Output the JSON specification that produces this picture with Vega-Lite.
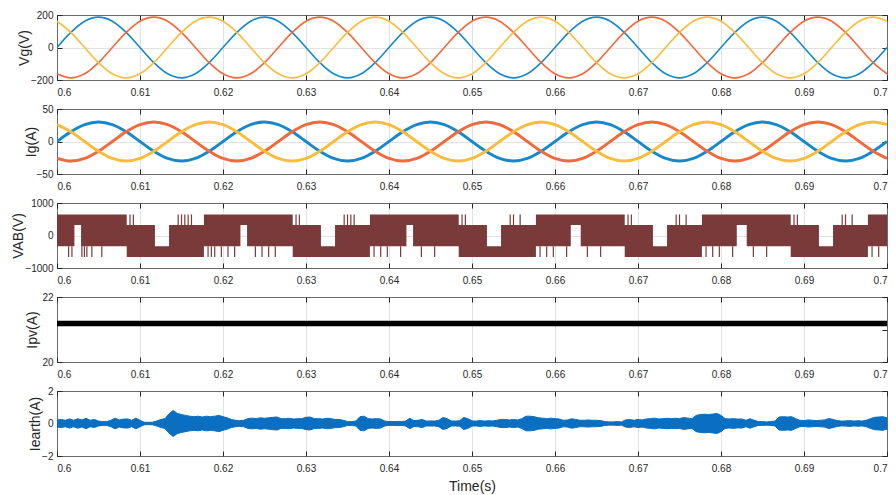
{
  "$schema": "https://vega.github.io/schema/vega-lite/v6.json",
  "background": "white",
  "padding": {"top": 9, "left": 10, "right": 0, "bottom": 0},
  "config": {
    "font": "Liberation Sans",
    "view": {"stroke": "#6b6b6b", "strokeWidth": 1},
    "axis": {
      "labelFont": "Liberation Sans", "labelFontSize": 10, "labelColor": "#262626",
      "titleFont": "Liberation Sans", "titleFontSize": 14, "titleFontWeight": "normal", "titleColor": "#262626",
      "grid": true, "gridWidth": 1,
      "domain": false, "tickColor": "#262626", "tickSize": -5
    },
    "axisX": {"labelPadding": 12, "gridColor": {"condition": {"test": "datum.value <= 0.6 || datum.value >= 0.7", "value": "#6b6b6b"}, "value": "#e2e2e2"}},
    "axisY": {"labelPadding": 9, "titleBaseline": "middle", "titleAnchor": "middle"}
  },
  "bounds": "flush",
  "spacing": 29,
  "datasets": {
    "sine": [
      {"t":0.6,"a":0,"b":-162,"c":162,"ia":0,"ib":-26,"ic":26},
      {"t":0.601667,"a":93,"b":-187,"c":93,"ia":15,"ib":-30,"ic":15},
      {"t":0.603333,"a":162,"b":-162,"c":0,"ia":26,"ib":-26,"ic":0},
      {"t":0.605,"a":187,"b":-93,"c":-93,"ia":30,"ib":-15,"ic":-15},
      {"t":0.606667,"a":162,"b":0,"c":-162,"ia":26,"ib":0,"ic":-26},
      {"t":0.608333,"a":93,"b":93,"c":-187,"ia":15,"ib":15,"ic":-30},
      {"t":0.61,"a":0,"b":162,"c":-162,"ia":0,"ib":26,"ic":-26},
      {"t":0.611667,"a":-93,"b":187,"c":-93,"ia":-15,"ib":30,"ic":-15},
      {"t":0.613333,"a":-162,"b":162,"c":0,"ia":-26,"ib":26,"ic":0},
      {"t":0.615,"a":-187,"b":93,"c":93,"ia":-30,"ib":15,"ic":15},
      {"t":0.616667,"a":-162,"b":0,"c":162,"ia":-26,"ib":0,"ic":26},
      {"t":0.618333,"a":-93,"b":-93,"c":187,"ia":-15,"ib":-15,"ic":30},
      {"t":0.62,"a":0,"b":-162,"c":162,"ia":0,"ib":-26,"ic":26},
      {"t":0.621667,"a":93,"b":-187,"c":93,"ia":15,"ib":-30,"ic":15},
      {"t":0.623333,"a":162,"b":-162,"c":0,"ia":26,"ib":-26,"ic":0},
      {"t":0.625,"a":187,"b":-93,"c":-93,"ia":30,"ib":-15,"ic":-15},
      {"t":0.626667,"a":162,"b":0,"c":-162,"ia":26,"ib":0,"ic":-26},
      {"t":0.628333,"a":93,"b":93,"c":-187,"ia":15,"ib":15,"ic":-30},
      {"t":0.63,"a":0,"b":162,"c":-162,"ia":0,"ib":26,"ic":-26},
      {"t":0.631667,"a":-93,"b":187,"c":-93,"ia":-15,"ib":30,"ic":-15},
      {"t":0.633333,"a":-162,"b":162,"c":0,"ia":-26,"ib":26,"ic":0},
      {"t":0.635,"a":-187,"b":93,"c":93,"ia":-30,"ib":15,"ic":15},
      {"t":0.636667,"a":-162,"b":0,"c":162,"ia":-26,"ib":0,"ic":26},
      {"t":0.638333,"a":-93,"b":-93,"c":187,"ia":-15,"ib":-15,"ic":30},
      {"t":0.64,"a":0,"b":-162,"c":162,"ia":0,"ib":-26,"ic":26},
      {"t":0.641667,"a":93,"b":-187,"c":93,"ia":15,"ib":-30,"ic":15},
      {"t":0.643333,"a":162,"b":-162,"c":0,"ia":26,"ib":-26,"ic":0},
      {"t":0.645,"a":187,"b":-93,"c":-93,"ia":30,"ib":-15,"ic":-15},
      {"t":0.646667,"a":162,"b":0,"c":-162,"ia":26,"ib":0,"ic":-26},
      {"t":0.648333,"a":93,"b":93,"c":-187,"ia":15,"ib":15,"ic":-30},
      {"t":0.65,"a":0,"b":162,"c":-162,"ia":0,"ib":26,"ic":-26},
      {"t":0.651667,"a":-93,"b":187,"c":-93,"ia":-15,"ib":30,"ic":-15},
      {"t":0.653333,"a":-162,"b":162,"c":0,"ia":-26,"ib":26,"ic":0},
      {"t":0.655,"a":-187,"b":93,"c":93,"ia":-30,"ib":15,"ic":15},
      {"t":0.656667,"a":-162,"b":0,"c":162,"ia":-26,"ib":0,"ic":26},
      {"t":0.658333,"a":-93,"b":-93,"c":187,"ia":-15,"ib":-15,"ic":30},
      {"t":0.66,"a":0,"b":-162,"c":162,"ia":0,"ib":-26,"ic":26},
      {"t":0.661667,"a":93,"b":-187,"c":93,"ia":15,"ib":-30,"ic":15},
      {"t":0.663333,"a":162,"b":-162,"c":0,"ia":26,"ib":-26,"ic":0},
      {"t":0.665,"a":187,"b":-93,"c":-93,"ia":30,"ib":-15,"ic":-15},
      {"t":0.666667,"a":162,"b":0,"c":-162,"ia":26,"ib":0,"ic":-26},
      {"t":0.668333,"a":93,"b":93,"c":-187,"ia":15,"ib":15,"ic":-30},
      {"t":0.67,"a":0,"b":162,"c":-162,"ia":0,"ib":26,"ic":-26},
      {"t":0.671667,"a":-93,"b":187,"c":-93,"ia":-15,"ib":30,"ic":-15},
      {"t":0.673333,"a":-162,"b":162,"c":0,"ia":-26,"ib":26,"ic":0},
      {"t":0.675,"a":-187,"b":93,"c":93,"ia":-30,"ib":15,"ic":15},
      {"t":0.676667,"a":-162,"b":0,"c":162,"ia":-26,"ib":0,"ic":26},
      {"t":0.678333,"a":-93,"b":-93,"c":187,"ia":-15,"ib":-15,"ic":30},
      {"t":0.68,"a":0,"b":-162,"c":162,"ia":0,"ib":-26,"ic":26},
      {"t":0.681667,"a":93,"b":-187,"c":93,"ia":15,"ib":-30,"ic":15},
      {"t":0.683333,"a":162,"b":-162,"c":0,"ia":26,"ib":-26,"ic":0},
      {"t":0.685,"a":187,"b":-93,"c":-93,"ia":30,"ib":-15,"ic":-15},
      {"t":0.686667,"a":162,"b":0,"c":-162,"ia":26,"ib":0,"ic":-26},
      {"t":0.688333,"a":93,"b":93,"c":-187,"ia":15,"ib":15,"ic":-30},
      {"t":0.69,"a":0,"b":162,"c":-162,"ia":0,"ib":26,"ic":-26},
      {"t":0.691667,"a":-93,"b":187,"c":-93,"ia":-15,"ib":30,"ic":-15},
      {"t":0.693333,"a":-162,"b":162,"c":0,"ia":-26,"ib":26,"ic":0},
      {"t":0.695,"a":-187,"b":93,"c":93,"ia":-30,"ib":15,"ic":15},
      {"t":0.696667,"a":-162,"b":0,"c":162,"ia":-26,"ib":0,"ic":26},
      {"t":0.698333,"a":-93,"b":-93,"c":187,"ia":-15,"ib":-15,"ic":30},
      {"t":0.7,"a":0,"b":-162,"c":162,"ia":0,"ib":-26,"ic":26}
    ],
    "vab": [
      {"t":0.6,"hi":650,"lo":-330},{"t":0.6021,"hi":650,"lo":320},{"t":0.6029,"hi":650,"lo":-330},
      {"t":0.6084,"hi":320,"lo":-660},{"t":0.6118,"hi":-330,"lo":-660},{"t":0.6135,"hi":320,"lo":-660},
      {"t":0.6177,"hi":650,"lo":-330},{"t":0.6221,"hi":650,"lo":320},{"t":0.6229,"hi":650,"lo":-330},
      {"t":0.6284,"hi":320,"lo":-660},{"t":0.6318,"hi":-330,"lo":-660},{"t":0.6335,"hi":320,"lo":-660},
      {"t":0.6377,"hi":650,"lo":-330},{"t":0.6421,"hi":650,"lo":320},{"t":0.6429,"hi":650,"lo":-330},
      {"t":0.6484,"hi":320,"lo":-660},{"t":0.6518,"hi":-330,"lo":-660},{"t":0.6535,"hi":320,"lo":-660},
      {"t":0.6577,"hi":650,"lo":-330},{"t":0.6619,"hi":650,"lo":320},{"t":0.6631,"hi":650,"lo":-330},
      {"t":0.6684,"hi":320,"lo":-660},{"t":0.6718,"hi":-330,"lo":-660},{"t":0.6735,"hi":320,"lo":-660},
      {"t":0.6777,"hi":650,"lo":-330},{"t":0.6819,"hi":650,"lo":320},{"t":0.6831,"hi":650,"lo":-330},
      {"t":0.6884,"hi":320,"lo":-660},{"t":0.6918,"hi":-330,"lo":-660},{"t":0.6935,"hi":320,"lo":-660},
      {"t":0.6977,"hi":650,"lo":-330},{"t":0.7,"hi":650,"lo":-330}
    ],
    "vabs": [
      {"t":0.6014,"y1":-330,"y2":-660},{"t":0.6018,"y1":-330,"y2":-660},{"t":0.603,"y1":-330,"y2":-660},{"t":0.6033,"y1":-330,"y2":-660},{"t":0.6036,"y1":-330,"y2":-660},{"t":0.6042,"y1":-330,"y2":-660},{"t":0.6054,"y1":-330,"y2":-660},
      {"t":0.6088,"y1":320,"y2":650},{"t":0.6092,"y1":320,"y2":650},{"t":0.6146,"y1":320,"y2":650},{"t":0.615,"y1":320,"y2":650},{"t":0.6154,"y1":320,"y2":650},{"t":0.6158,"y1":320,"y2":650},{"t":0.6162,"y1":320,"y2":650},
      {"t":0.6182,"y1":-330,"y2":-660},{"t":0.6186,"y1":-330,"y2":-660},{"t":0.619,"y1":-330,"y2":-660},{"t":0.6198,"y1":-330,"y2":-660},{"t":0.6206,"y1":-330,"y2":-660},{"t":0.6214,"y1":-330,"y2":-660},{"t":0.6239,"y1":-330,"y2":-660},{"t":0.6247,"y1":-330,"y2":-660},{"t":0.6255,"y1":-330,"y2":-660},{"t":0.6263,"y1":-330,"y2":-660},
      {"t":0.6288,"y1":320,"y2":650},{"t":0.6292,"y1":320,"y2":650},{"t":0.6346,"y1":320,"y2":650},{"t":0.635,"y1":320,"y2":650},{"t":0.6354,"y1":320,"y2":650},{"t":0.6358,"y1":320,"y2":650},
      {"t":0.6382,"y1":-330,"y2":-660},{"t":0.639,"y1":-330,"y2":-660},{"t":0.6398,"y1":-330,"y2":-660},{"t":0.6414,"y1":-330,"y2":-660},{"t":0.6439,"y1":-330,"y2":-660},{"t":0.6455,"y1":-330,"y2":-660},
      {"t":0.6488,"y1":320,"y2":650},{"t":0.6492,"y1":320,"y2":650},{"t":0.6546,"y1":320,"y2":650},{"t":0.655,"y1":320,"y2":650},{"t":0.6558,"y1":320,"y2":650},
      {"t":0.6582,"y1":-330,"y2":-660},{"t":0.659,"y1":-330,"y2":-660},{"t":0.6598,"y1":-330,"y2":-660},{"t":0.6614,"y1":-330,"y2":-660},{"t":0.6639,"y1":-330,"y2":-660},{"t":0.6655,"y1":-330,"y2":-660},
      {"t":0.6688,"y1":320,"y2":650},{"t":0.6692,"y1":320,"y2":650},{"t":0.6746,"y1":320,"y2":650},{"t":0.675,"y1":320,"y2":650},{"t":0.6758,"y1":320,"y2":650},
      {"t":0.6782,"y1":-330,"y2":-660},{"t":0.679,"y1":-330,"y2":-660},{"t":0.6798,"y1":-330,"y2":-660},{"t":0.6814,"y1":-330,"y2":-660},{"t":0.6839,"y1":-330,"y2":-660},{"t":0.6855,"y1":-330,"y2":-660},
      {"t":0.6888,"y1":320,"y2":650},{"t":0.6892,"y1":320,"y2":650},{"t":0.6946,"y1":320,"y2":650},{"t":0.695,"y1":320,"y2":650},{"t":0.6958,"y1":320,"y2":650},
      {"t":0.6982,"y1":-330,"y2":-660},{"t":0.699,"y1":-330,"y2":-660}
    ],
    "ipv": [
      {"t":0.6,"hi":21.27,"lo":21.1},{"t":0.7,"hi":21.27,"lo":21.1}
    ],
    "earth": [
      {"t":0.6,"hi":0.22,"lo":-0.22},{"t":0.6005,"hi":0.25,"lo":-0.25},{"t":0.601,"hi":0.2,"lo":-0.2},{"t":0.6015,"hi":0.28,"lo":-0.28},{"t":0.602,"hi":0.2,"lo":-0.2},
      {"t":0.6025,"hi":0.29,"lo":-0.29},{"t":0.603,"hi":0.22,"lo":-0.22},{"t":0.6035,"hi":0.32,"lo":-0.32},{"t":0.604,"hi":0.2,"lo":-0.2},{"t":0.6045,"hi":0.25,"lo":-0.25},
      {"t":0.605,"hi":0.15,"lo":-0.15},{"t":0.6055,"hi":0.12,"lo":-0.12},{"t":0.606,"hi":0.12,"lo":-0.12},{"t":0.6065,"hi":0.2,"lo":-0.2},{"t":0.607,"hi":0.33,"lo":-0.33},
      {"t":0.6075,"hi":0.22,"lo":-0.22},{"t":0.608,"hi":0.27,"lo":-0.27},{"t":0.6085,"hi":0.28,"lo":-0.28},{"t":0.609,"hi":0.2,"lo":-0.2},{"t":0.6095,"hi":0.33,"lo":-0.33},
      {"t":0.61,"hi":0.2,"lo":-0.2},{"t":0.6105,"hi":0.08,"lo":-0.08},{"t":0.611,"hi":0.07,"lo":-0.07},{"t":0.6115,"hi":0.08,"lo":-0.08},{"t":0.612,"hi":0.15,"lo":-0.15},
      {"t":0.6125,"hi":0.25,"lo":-0.25},{"t":0.613,"hi":0.3,"lo":-0.3},{"t":0.6135,"hi":0.6,"lo":-0.6},{"t":0.614,"hi":0.8,"lo":-0.8},{"t":0.6145,"hi":0.62,"lo":-0.62},
      {"t":0.615,"hi":0.55,"lo":-0.55},{"t":0.6155,"hi":0.5,"lo":-0.5},{"t":0.616,"hi":0.45,"lo":-0.45},{"t":0.6165,"hi":0.42,"lo":-0.42},{"t":0.617,"hi":0.45,"lo":-0.45},
      {"t":0.6175,"hi":0.4,"lo":-0.4},{"t":0.618,"hi":0.45,"lo":-0.45},{"t":0.6185,"hi":0.42,"lo":-0.42},{"t":0.619,"hi":0.45,"lo":-0.45},{"t":0.6195,"hi":0.5,"lo":-0.5},
      {"t":0.62,"hi":0.42,"lo":-0.42},{"t":0.6205,"hi":0.35,"lo":-0.35},{"t":0.621,"hi":0.25,"lo":-0.25},{"t":0.6215,"hi":0.2,"lo":-0.2},{"t":0.622,"hi":0.18,"lo":-0.18},
      {"t":0.6225,"hi":0.2,"lo":-0.2},{"t":0.623,"hi":0.3,"lo":-0.3},{"t":0.6235,"hi":0.33,"lo":-0.33},{"t":0.624,"hi":0.3,"lo":-0.3},{"t":0.6245,"hi":0.35,"lo":-0.35},
      {"t":0.625,"hi":0.32,"lo":-0.32},{"t":0.6255,"hi":0.35,"lo":-0.35},{"t":0.626,"hi":0.38,"lo":-0.38},{"t":0.6265,"hi":0.4,"lo":-0.4},{"t":0.627,"hi":0.3,"lo":-0.3},
      {"t":0.6275,"hi":0.3,"lo":-0.3},{"t":0.628,"hi":0.32,"lo":-0.32},{"t":0.6285,"hi":0.28,"lo":-0.28},{"t":0.629,"hi":0.3,"lo":-0.3},{"t":0.6295,"hi":0.3,"lo":-0.3},
      {"t":0.63,"hi":0.38,"lo":-0.38},{"t":0.6305,"hi":0.4,"lo":-0.4},{"t":0.631,"hi":0.3,"lo":-0.3},{"t":0.6315,"hi":0.3,"lo":-0.3},{"t":0.632,"hi":0.28,"lo":-0.28},
      {"t":0.6325,"hi":0.32,"lo":-0.32},{"t":0.633,"hi":0.3,"lo":-0.3},{"t":0.6335,"hi":0.25,"lo":-0.25},{"t":0.634,"hi":0.25,"lo":-0.25},{"t":0.6345,"hi":0.2,"lo":-0.2},
      {"t":0.635,"hi":0.12,"lo":-0.12},{"t":0.6355,"hi":0.12,"lo":-0.12},{"t":0.636,"hi":0.15,"lo":-0.15},{"t":0.6365,"hi":0.42,"lo":-0.42},{"t":0.637,"hi":0.45,"lo":-0.45},
      {"t":0.6375,"hi":0.3,"lo":-0.3},{"t":0.638,"hi":0.28,"lo":-0.28},{"t":0.6385,"hi":0.3,"lo":-0.3},{"t":0.639,"hi":0.28,"lo":-0.28},{"t":0.6395,"hi":0.15,"lo":-0.15},
      {"t":0.64,"hi":0.12,"lo":-0.12},{"t":0.6405,"hi":0.12,"lo":-0.12},{"t":0.641,"hi":0.13,"lo":-0.13},{"t":0.6415,"hi":0.12,"lo":-0.12},{"t":0.642,"hi":0.15,"lo":-0.15},
      {"t":0.6425,"hi":0.32,"lo":-0.32},{"t":0.643,"hi":0.18,"lo":-0.18},{"t":0.6435,"hi":0.2,"lo":-0.2},{"t":0.644,"hi":0.25,"lo":-0.25},{"t":0.6445,"hi":0.15,"lo":-0.15},
      {"t":0.645,"hi":0.16,"lo":-0.16},{"t":0.6455,"hi":0.15,"lo":-0.15},{"t":0.646,"hi":0.2,"lo":-0.2},{"t":0.6465,"hi":0.37,"lo":-0.37},{"t":0.647,"hi":0.3,"lo":-0.3},
      {"t":0.6475,"hi":0.16,"lo":-0.16},{"t":0.648,"hi":0.15,"lo":-0.15},{"t":0.6485,"hi":0.17,"lo":-0.17},{"t":0.649,"hi":0.37,"lo":-0.37},{"t":0.6495,"hi":0.3,"lo":-0.3},
      {"t":0.65,"hi":0.16,"lo":-0.16},{"t":0.6505,"hi":0.15,"lo":-0.15},{"t":0.651,"hi":0.18,"lo":-0.18},{"t":0.6515,"hi":0.15,"lo":-0.15},{"t":0.652,"hi":0.17,"lo":-0.17},
      {"t":0.6525,"hi":0.16,"lo":-0.16},{"t":0.653,"hi":0.2,"lo":-0.2},{"t":0.6535,"hi":0.25,"lo":-0.25},{"t":0.654,"hi":0.25,"lo":-0.25},{"t":0.6545,"hi":0.22,"lo":-0.22},
      {"t":0.655,"hi":0.25,"lo":-0.25},{"t":0.6555,"hi":0.22,"lo":-0.22},{"t":0.656,"hi":0.3,"lo":-0.3},{"t":0.6565,"hi":0.45,"lo":-0.45},{"t":0.657,"hi":0.45,"lo":-0.45},
      {"t":0.6575,"hi":0.42,"lo":-0.42},{"t":0.658,"hi":0.35,"lo":-0.35},{"t":0.6585,"hi":0.33,"lo":-0.33},{"t":0.659,"hi":0.3,"lo":-0.3},{"t":0.6595,"hi":0.33,"lo":-0.33},
      {"t":0.66,"hi":0.3,"lo":-0.3},{"t":0.6605,"hi":0.28,"lo":-0.28},{"t":0.661,"hi":0.2,"lo":-0.2},{"t":0.6615,"hi":0.22,"lo":-0.22},{"t":0.662,"hi":0.29,"lo":-0.29},
      {"t":0.6625,"hi":0.25,"lo":-0.25},{"t":0.663,"hi":0.2,"lo":-0.2},{"t":0.6635,"hi":0.2,"lo":-0.2},{"t":0.664,"hi":0.22,"lo":-0.22},{"t":0.6645,"hi":0.2,"lo":-0.2},
      {"t":0.665,"hi":0.2,"lo":-0.2},{"t":0.6655,"hi":0.18,"lo":-0.18},{"t":0.666,"hi":0.12,"lo":-0.12},{"t":0.6665,"hi":0.1,"lo":-0.1},{"t":0.667,"hi":0.1,"lo":-0.1},
      {"t":0.6675,"hi":0.12,"lo":-0.12},{"t":0.668,"hi":0.1,"lo":-0.1},{"t":0.6685,"hi":0.22,"lo":-0.22},{"t":0.669,"hi":0.25,"lo":-0.25},{"t":0.6695,"hi":0.2,"lo":-0.2},
      {"t":0.67,"hi":0.25,"lo":-0.25},{"t":0.6705,"hi":0.22,"lo":-0.22},{"t":0.671,"hi":0.28,"lo":-0.28},{"t":0.6715,"hi":0.3,"lo":-0.3},{"t":0.672,"hi":0.33,"lo":-0.33},
      {"t":0.6725,"hi":0.28,"lo":-0.28},{"t":0.673,"hi":0.3,"lo":-0.3},{"t":0.6735,"hi":0.32,"lo":-0.32},{"t":0.674,"hi":0.3,"lo":-0.3},{"t":0.6745,"hi":0.32,"lo":-0.32},
      {"t":0.675,"hi":0.3,"lo":-0.3},{"t":0.6755,"hi":0.37,"lo":-0.37},{"t":0.676,"hi":0.33,"lo":-0.33},{"t":0.6765,"hi":0.3,"lo":-0.3},{"t":0.677,"hi":0.5,"lo":-0.5},
      {"t":0.6775,"hi":0.55,"lo":-0.55},{"t":0.678,"hi":0.57,"lo":-0.57},{"t":0.6785,"hi":0.55,"lo":-0.55},{"t":0.679,"hi":0.58,"lo":-0.58},{"t":0.6795,"hi":0.62,"lo":-0.62},
      {"t":0.68,"hi":0.5,"lo":-0.5},{"t":0.6805,"hi":0.3,"lo":-0.3},{"t":0.681,"hi":0.28,"lo":-0.28},{"t":0.6815,"hi":0.3,"lo":-0.3},{"t":0.682,"hi":0.27,"lo":-0.27},
      {"t":0.6825,"hi":0.28,"lo":-0.28},{"t":0.683,"hi":0.2,"lo":-0.2},{"t":0.6835,"hi":0.29,"lo":-0.29},{"t":0.684,"hi":0.2,"lo":-0.2},{"t":0.6845,"hi":0.12,"lo":-0.12},
      {"t":0.685,"hi":0.12,"lo":-0.12},{"t":0.6855,"hi":0.1,"lo":-0.1},{"t":0.686,"hi":0.12,"lo":-0.12},{"t":0.6865,"hi":0.15,"lo":-0.15},{"t":0.687,"hi":0.4,"lo":-0.4},
      {"t":0.6875,"hi":0.42,"lo":-0.42},{"t":0.688,"hi":0.4,"lo":-0.4},{"t":0.6885,"hi":0.42,"lo":-0.42},{"t":0.689,"hi":0.3,"lo":-0.3},{"t":0.6895,"hi":0.2,"lo":-0.2},
      {"t":0.69,"hi":0.18,"lo":-0.18},{"t":0.6905,"hi":0.22,"lo":-0.22},{"t":0.691,"hi":0.2,"lo":-0.2},{"t":0.6915,"hi":0.18,"lo":-0.18},{"t":0.692,"hi":0.2,"lo":-0.2},
      {"t":0.6925,"hi":0.22,"lo":-0.22},{"t":0.693,"hi":0.31,"lo":-0.31},{"t":0.6935,"hi":0.25,"lo":-0.25},{"t":0.694,"hi":0.18,"lo":-0.18},{"t":0.6945,"hi":0.15,"lo":-0.15},
      {"t":0.695,"hi":0.16,"lo":-0.16},{"t":0.6955,"hi":0.18,"lo":-0.18},{"t":0.696,"hi":0.15,"lo":-0.15},{"t":0.6965,"hi":0.17,"lo":-0.17},{"t":0.697,"hi":0.15,"lo":-0.15},
      {"t":0.6975,"hi":0.2,"lo":-0.2},{"t":0.698,"hi":0.3,"lo":-0.3},{"t":0.6985,"hi":0.38,"lo":-0.38},{"t":0.699,"hi":0.4,"lo":-0.4},{"t":0.6995,"hi":0.42,"lo":-0.42},
      {"t":0.7,"hi":0.35,"lo":-0.35}
    ]
  },
  "vconcat": [
    {
      "width": 830, "height": 65,
      "data": {"name": "sine"},
      "transform": [{"fold": ["a", "b", "c"], "as": ["ph", "v"]}],
      "resolve": {"axis": {"x": "independent", "y": "independent"}},
      "layer": [
        {
          "mark": {"type": "line", "strokeWidth": 1.6, "interpolate": "monotone", "clip": true},
          "encoding": {
            "x": {"field": "t", "type": "quantitative", "scale": {"domain": [0.6, 0.7], "nice": false, "zero": false},
                  "axis": {"values": [0.6,0.61,0.62,0.63,0.64,0.65,0.66,0.67,0.68,0.69,0.7], "format": ".2~f", "title": null}},
            "y": {"field": "v", "type": "quantitative", "scale": {"domain": [-200, 200], "nice": false},
                  "axis": {"values": [-200, 0, 200], "format": "d", "title": "Vg(V)", "titleX": -33,
                           "gridColor": {"condition": {"test": "abs(datum.value) >= 200", "value": "#6b6b6b"}, "value": "#e2e2e2"}}},
            "color": {"field": "ph", "type": "nominal", "scale": {"domain": ["a", "b", "c"], "range": ["#1689cc", "#f2693b", "#fbbc3c"]}, "legend": null}
          }
        },
        {
          "mark": {"type": "line", "strokeOpacity": 0, "clip": true},
          "encoding": {
            "x": {"field": "t", "type": "quantitative", "axis": {"orient": "top", "values": [0.6,0.61,0.62,0.63,0.64,0.65,0.66,0.67,0.68,0.69,0.7], "labels": false, "grid": false, "title": null}},
            "y": {"field": "v", "type": "quantitative", "axis": {"orient": "right", "values": [-200, 0, 200], "labels": false, "grid": false, "title": null}},
            "detail": {"field": "ph"}
          }
        }
      ]
    },
    {
      "width": 830, "height": 65,
      "data": {"name": "sine"},
      "transform": [{"fold": ["ia", "ib", "ic"], "as": ["ph", "v"]}],
      "resolve": {"axis": {"x": "independent", "y": "independent"}},
      "layer": [
        {
          "mark": {"type": "line", "strokeWidth": 3, "interpolate": "monotone", "clip": true},
          "encoding": {
            "x": {"field": "t", "type": "quantitative", "scale": {"domain": [0.6, 0.7], "nice": false, "zero": false},
                  "axis": {"values": [0.6,0.61,0.62,0.63,0.64,0.65,0.66,0.67,0.68,0.69,0.7], "format": ".2~f", "title": null}},
            "y": {"field": "v", "type": "quantitative", "scale": {"domain": [-50, 50], "nice": false},
                  "axis": {"values": [-50, 0, 50], "format": "d", "title": "Ig(A)", "titleX": -26,
                           "gridColor": {"condition": {"test": "abs(datum.value) >= 50", "value": "#6b6b6b"}, "value": "#e2e2e2"}}},
            "color": {"field": "ph", "type": "nominal", "scale": {"domain": ["ia", "ib", "ic"], "range": ["#0a78c2", "#f4581e", "#fdb916"]}, "legend": null}
          }
        },
        {
          "mark": {"type": "line", "strokeOpacity": 0, "clip": true},
          "encoding": {
            "x": {"field": "t", "type": "quantitative", "axis": {"orient": "top", "values": [0.6,0.61,0.62,0.63,0.64,0.65,0.66,0.67,0.68,0.69,0.7], "labels": false, "grid": false, "title": null}},
            "y": {"field": "v", "type": "quantitative", "axis": {"orient": "right", "values": [-50, 0, 50], "labels": false, "grid": false, "title": null}},
            "detail": {"field": "ph"}
          }
        }
      ]
    },
    {
      "width": 830, "height": 65,
      "resolve": {"axis": {"x": "independent", "y": "independent"}},
      "layer": [
        {
          "data": {"name": "vab"},
          "mark": {"type": "area", "interpolate": "step-after", "color": "#7b3a3a", "clip": true},
          "encoding": {
            "x": {"field": "t", "type": "quantitative", "scale": {"domain": [0.6, 0.7], "nice": false, "zero": false},
                  "axis": {"values": [0.6,0.61,0.62,0.63,0.64,0.65,0.66,0.67,0.68,0.69,0.7], "format": ".2~f", "title": null}},
            "y": {"field": "hi", "type": "quantitative", "scale": {"domain": [-1000, 1000], "nice": false},
                  "axis": {"values": [-1000, 0, 1000], "format": "d", "title": "VAB(V)", "titleX": -39,
                           "gridColor": {"condition": {"test": "abs(datum.value) >= 1000", "value": "#6b6b6b"}, "value": "#e2e2e2"}}},
            "y2": {"field": "lo"}
          }
        },
        {
          "data": {"name": "vabs"},
          "mark": {"type": "rule", "color": "#7b3a3a", "strokeWidth": 1.2, "clip": true},
          "encoding": {
            "x": {"field": "t", "type": "quantitative", "axis": null},
            "y": {"field": "y1", "type": "quantitative", "axis": null},
            "y2": {"field": "y2"}
          }
        },
        {
          "data": {"name": "vab"},
          "mark": {"type": "line", "strokeOpacity": 0, "clip": true},
          "encoding": {
            "x": {"field": "t", "type": "quantitative", "axis": {"orient": "top", "values": [0.6,0.61,0.62,0.63,0.64,0.65,0.66,0.67,0.68,0.69,0.7], "labels": false, "grid": false, "title": null}},
            "y": {"field": "hi", "type": "quantitative", "axis": {"orient": "right", "values": [-1000, 0, 1000], "labels": false, "grid": false, "title": null}}
          }
        }
      ]
    },
    {
      "width": 830, "height": 65,
      "data": {"name": "ipv"},
      "resolve": {"axis": {"x": "independent", "y": "independent"}},
      "layer": [
        {
          "mark": {"type": "area", "color": "#000000", "clip": true},
          "encoding": {
            "x": {"field": "t", "type": "quantitative", "scale": {"domain": [0.6, 0.7], "nice": false, "zero": false},
                  "axis": {"values": [0.6,0.61,0.62,0.63,0.64,0.65,0.66,0.67,0.68,0.69,0.7], "format": ".2~f", "title": null}},
            "y": {"field": "hi", "type": "quantitative", "scale": {"domain": [20, 22], "nice": false, "zero": false},
                  "axis": {"values": [20, 21, 22], "format": "d", "title": "Ipv(A)", "titleX": -25,
                           "gridColor": {"condition": {"test": "datum.value <= 20 || datum.value >= 22", "value": "#6b6b6b"}, "value": "#e2e2e2"}}},
            "y2": {"field": "lo"}
          }
        },
        {
          "mark": {"type": "line", "strokeOpacity": 0, "clip": true},
          "encoding": {
            "x": {"field": "t", "type": "quantitative", "axis": {"orient": "top", "values": [0.6,0.61,0.62,0.63,0.64,0.65,0.66,0.67,0.68,0.69,0.7], "labels": false, "grid": false, "title": null}},
            "y": {"field": "hi", "type": "quantitative", "axis": {"orient": "right", "values": [20, 21, 22], "labels": false, "grid": false, "title": null}}
          }
        }
      ]
    },
    {
      "width": 830, "height": 65,
      "data": {"name": "earth"},
      "resolve": {"axis": {"x": "independent", "y": "independent"}},
      "layer": [
        {
          "mark": {"type": "area", "color": "#0a6fc0", "stroke": "#0a6fc0", "strokeWidth": 1, "clip": true},
          "encoding": {
            "x": {"field": "t", "type": "quantitative", "scale": {"domain": [0.6, 0.7], "nice": false, "zero": false},
                  "axis": {"values": [0.6,0.61,0.62,0.63,0.64,0.65,0.66,0.67,0.68,0.69,0.7], "format": ".2~f", "title": "Time(s)", "titlePadding": 6}},
            "y": {"field": "hi", "type": "quantitative", "scale": {"domain": [-2, 2], "nice": false},
                  "axis": {"values": [-2, 0, 2], "format": "d", "title": "Iearth(A)", "titleX": -22,
                           "gridColor": {"condition": {"test": "abs(datum.value) >= 2", "value": "#6b6b6b"}, "value": "#e2e2e2"}}},
            "y2": {"field": "lo"}
          }
        },
        {
          "mark": {"type": "line", "strokeOpacity": 0, "clip": true},
          "encoding": {
            "x": {"field": "t", "type": "quantitative", "axis": {"orient": "top", "values": [0.6,0.61,0.62,0.63,0.64,0.65,0.66,0.67,0.68,0.69,0.7], "labels": false, "grid": false, "title": null}},
            "y": {"field": "hi", "type": "quantitative", "axis": {"orient": "right", "values": [-2, 0, 2], "labels": false, "grid": false, "title": null}}
          }
        }
      ]
    }
  ]
}
